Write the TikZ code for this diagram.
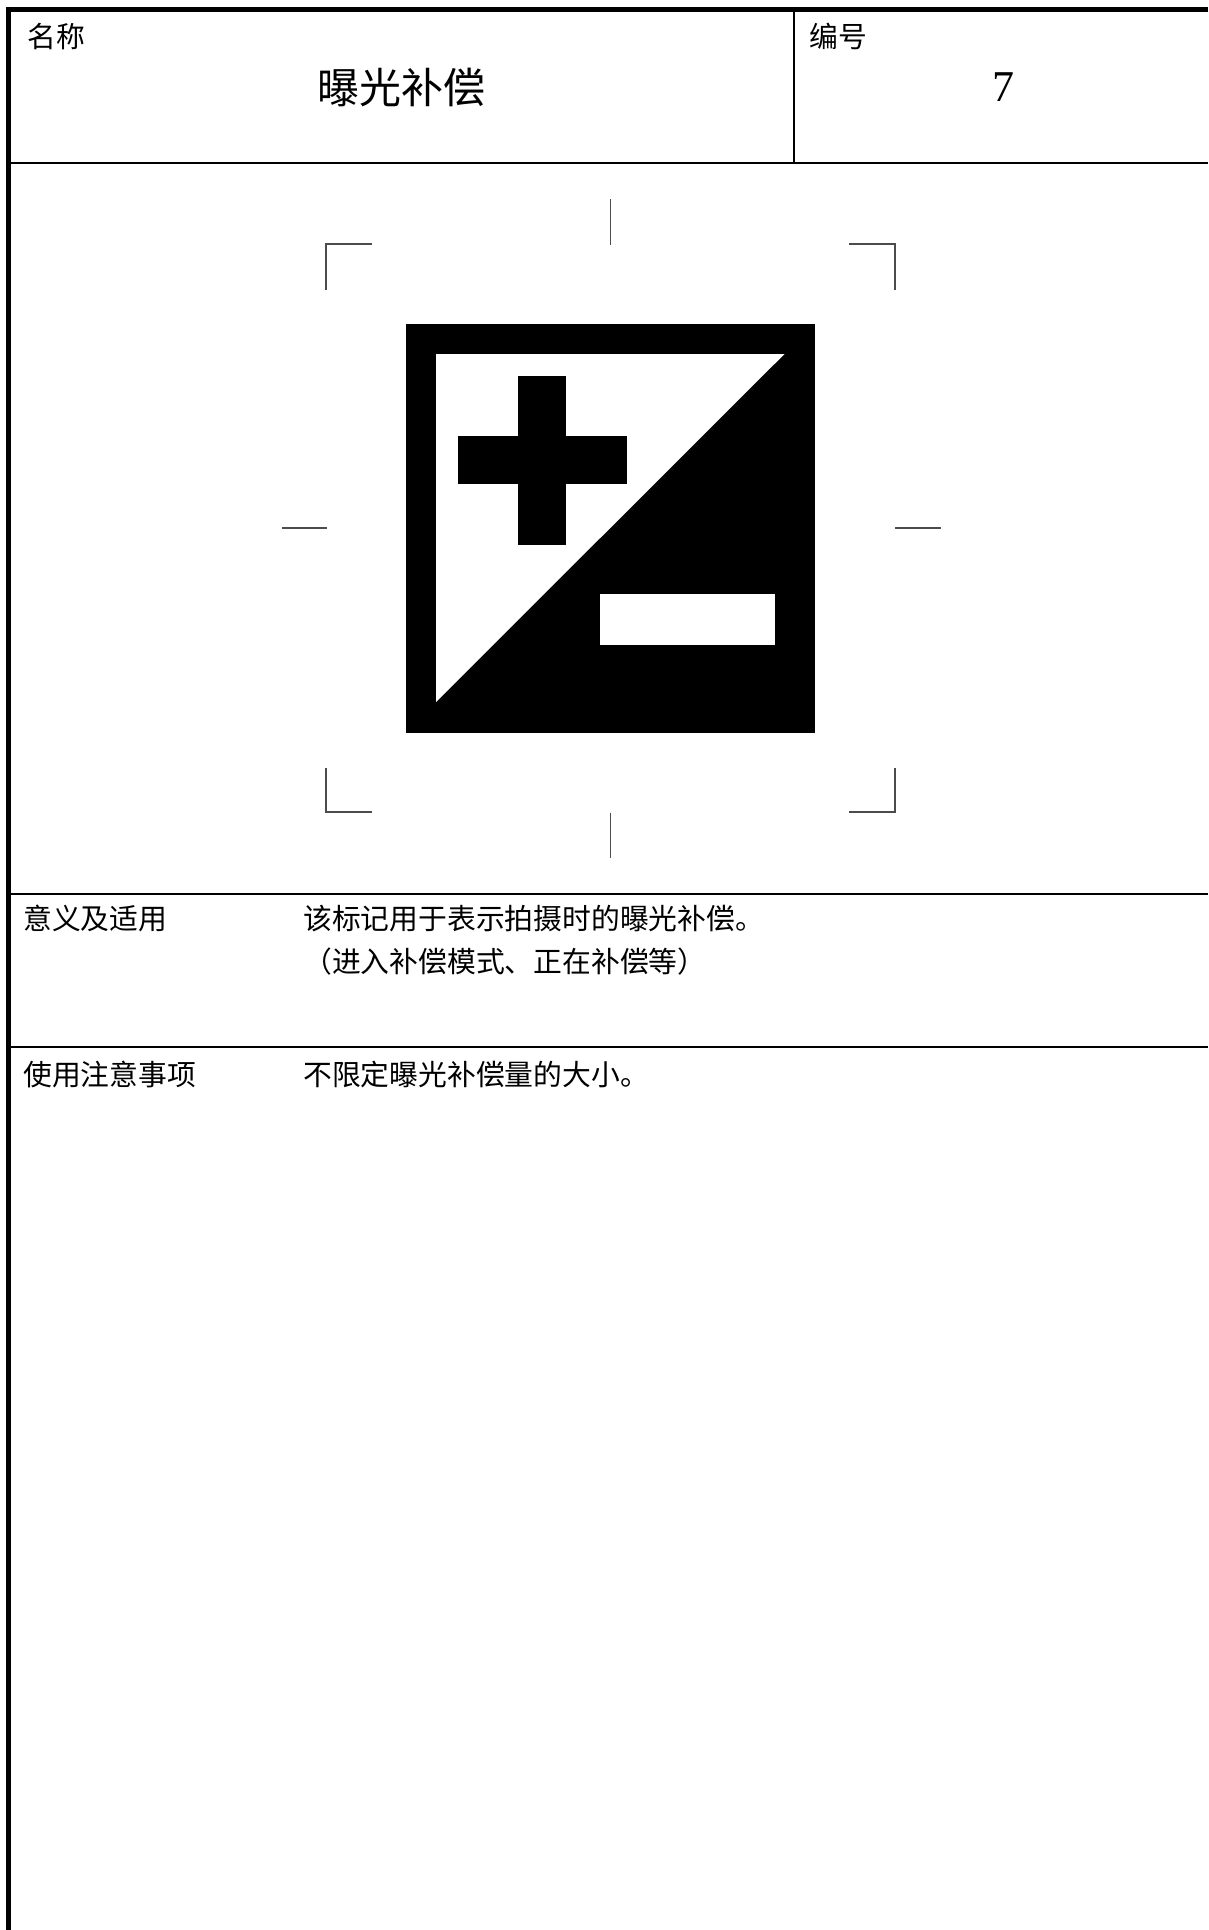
\documentclass[tikz,border=0pt]{standalone}
\usepackage{fontspec}
\newfontfamily\cjk[Kerning=Off,RawFeature={-palt;-chws;-kern}]{Noto Sans CJK SC}
\setmainfont{Liberation Serif}
\tikzset{
  txt/.style={inner sep=0pt,anchor=west,font=\cjk\fontsize{28.8}{34}\selectfont},
  ttl/.style={inner sep=0pt,anchor=center,font=\cjk\fontsize{42}{50}\selectfont},
  num/.style={inner sep=0pt,anchor=center,font=\fontsize{44}{50}\selectfont},
  hairrule/.style={line width=2pt,black},
  framerule/.style={line width=5pt,black},
  regmark/.style={line width=1.2pt,black!70,line cap=butt}
}
\begin{document}
\begin{tikzpicture}[x=1pt,y=-1pt]
\useasboundingbox (0,0) rectangle (1208,1930);
\fill[white] (0,0) rectangle (1208,1930);
% frame
\draw[framerule] (1208,9.5) -- (8.5,9.5) -- (8.5,1930);
\draw[hairrule] (9,163) -- (1208,163);
\draw[hairrule] (793.5,9.5) -- (793.5,163);
\draw[hairrule] (9,894) -- (1208,894);
\draw[hairrule] (9,1047) -- (1208,1047);
% labels
\node[txt] (name) at (27,37) {名称};
\node[ttl] (title) at (401,87) {曝光补偿};
\node[txt] (numl) at (809,36) {编号};
\node[num] (num) at (1003,87) {7};
\node[txt] (meanl) at (23,918) {意义及适用};
\node[txt] (mean1) at (303,919) {该标记用于表示拍摄时的曝光补偿。};
\node[txt] (mean2) at (303,962) {（进入补偿模式、正在补偿等）};
\node[txt] (notel) at (23,1074) {使用注意事项};
\node[txt] (note1) at (303,1074) {不限定曝光补偿量的大小。};
% symbol
\fill[black] (406,324) rectangle (815,733);
\fill[white] (436,354) -- (784.5,354) -- (436,702) -- cycle;
\fill[black] (518,375.5) rectangle (566,545);
\fill[black] (458,436) rectangle (626.5,484);
\fill[white] (600,594) rectangle (775,645);
% registration marks
\draw[regmark] (610.5,199) -- (610.5,245);
\draw[regmark] (610.5,812.5) -- (610.5,858);
\draw[regmark] (282,528) -- (327,528);
\draw[regmark] (895,528) -- (941,528);
\draw[regmark] (372,244) -- (326,244) -- (326,289.5);
\draw[regmark] (849,244) -- (895,244) -- (895,289.5);
\draw[regmark] (372,812) -- (326,812) -- (326,767.5);
\draw[regmark] (849,812) -- (895,812) -- (895,767.5);
\end{tikzpicture}
\end{document}
